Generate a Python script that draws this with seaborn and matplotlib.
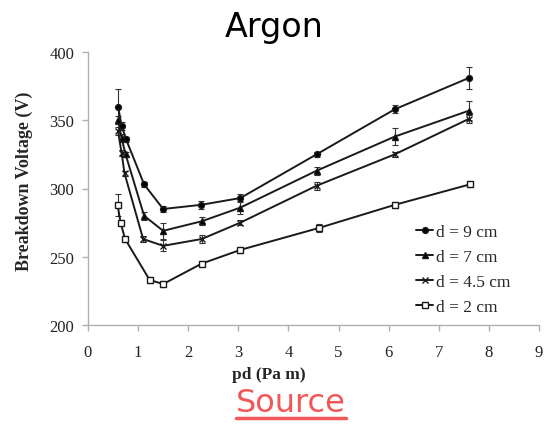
import matplotlib
matplotlib.use("Agg")
import matplotlib.pyplot as plt
import seaborn as sns
import pandas as pd
import numpy as np
from matplotlib.lines import Line2D

sns.set_style("white")

# ---- data ----
labels = ["d = 9 cm", "d = 7 cm", "d = 4.5 cm", "d = 2 cm"]
pd_9 = [0.60, 0.67, 0.76, 1.12, 1.50, 2.25, 3.04, 4.56, 6.12, 7.60]
v_9 = [360, 346, 336, 303, 285, 288, 293, 325, 358, 381]
e_9 = [13, 3, 2, 2, 2, 3, 3, 2, 3, 8]
pd_7 = [0.60, 0.67, 0.75, 1.12, 1.50, 2.27, 3.04, 4.56, 6.12, 7.60]
v_7 = [350, 337, 325, 280, 269, 276, 286, 313, 338, 357]
e_7 = [3, 3, 2, 3, 6, 3, 5, 3, 6, 7]
pd_45 = [0.60, 0.67, 0.73, 1.10, 1.50, 2.27, 3.04, 4.56, 6.12, 7.60]
v_45 = [342, 326, 311, 263, 258, 263, 275, 302, 325, 351]
e_45 = [3, 2, 2, 2, 4, 3, 2, 3, 2, 3]
pd_2 = [0.59, 0.65, 0.74, 1.23, 1.50, 2.27, 3.04, 4.60, 6.12, 7.62]
v_2 = [288, 275, 263, 233, 230, 245, 255, 271, 288, 303]
e_2 = [8, 2, 2, 2, 2, 2, 2, 3, 2, 2]
xticks = [0, 1, 2, 3, 4, 5, 6, 7, 8, 9]
yticks = [200, 250, 300, 350, 400]

series = [(pd_9, v_9, e_9), (pd_7, v_7, e_7), (pd_45, v_45, e_45), (pd_2, v_2, e_2)]
markers = ["o", "^", "x", "s"]
mfaces = ["black", "black", "black", "white"]

fig = plt.figure(figsize=(5.48, 4.27), dpi=100)
ax = fig.add_axes([88/548, 1-326/427, (539-88)/548, (326-53)/427])

serif = ["Liberation Serif", "DejaVu Serif"]
for (x, y, e), lab, m, fc in zip(series, labels, markers, mfaces):
    df = pd.DataFrame({"pd": x, "V": y})
    sns.lineplot(data=df, x="pd", y="V", ax=ax, color="#1a1a1a", lw=1.4,
                 marker=m, markersize=4.2, markerfacecolor=fc,
                 markeredgecolor="#1a1a1a", markeredgewidth=1.0, label=lab,
                 sort=False, zorder=3)
    ax.errorbar(x, y, yerr=e, fmt="none", ecolor="#333333", elinewidth=0.8,
                capsize=2, capthick=0.8, zorder=2)

ax.set_xlim(0, 9)
ax.set_ylim(200, 400)
ax.set_xticks(xticks)
ax.set_yticks(yticks)
ax.set_xticklabels([str(t) for t in xticks], fontfamily=serif, fontsize=12)
ax.set_yticklabels([str(t) for t in yticks], fontfamily=serif, fontsize=12)
for s in ["top", "right"]:
    ax.spines[s].set_visible(False)
for s in ["left", "bottom"]:
    ax.spines[s].set_color("#b0b0b0")
    ax.spines[s].set_linewidth(1.0)
ax.tick_params(axis="both", which="both", direction="out", length=4,
               color="#b0b0b0", width=1.0, labelcolor="#222222")
ax.tick_params(axis="x", bottom=True, pad=10)
ax.tick_params(axis="y", left=True, pad=6)

ax.set_xlabel("pd (Pa m)", fontfamily=serif, fontsize=12.5, fontweight="bold")
ax.xaxis.set_label_coords((269-88)/(539-88), -(367-326)/(326-53))
ax.set_ylabel("Breakdown Voltage (V)", fontfamily=serif, fontsize=13,
              fontweight="bold")
ax.yaxis.set_label_coords(-(88-33)/(539-88), 0.53)

leg = ax.legend(loc="upper left", bbox_to_anchor=((416-88)/(539-88), 1-(225-53)/(326-53)),
                frameon=False, borderaxespad=0, borderpad=0,
                prop={"family": serif, "size": 12.5}, handlelength=1.0,
                handletextpad=0.15, labelspacing=0.5)

fig.text(0.5, 1-27/427, "Argon", ha="center", va="center", fontsize=24,
         fontfamily=["DejaVu Sans"], color="black")

src = fig.text(291/548, 1-404/427, "Source", ha="center", va="center", fontsize=23,
               fontfamily=["DejaVu Sans"], color="#f25757")
fig.canvas.draw()
bb = src.get_window_extent().transformed(fig.transFigure.inverted())
yl = 1 - 419/427
fig.add_artist(Line2D([bb.x0, bb.x1], [yl, yl],
                      transform=fig.transFigure, color="#f25757", lw=2.5))

fig.savefig("out.png", dpi=100)
